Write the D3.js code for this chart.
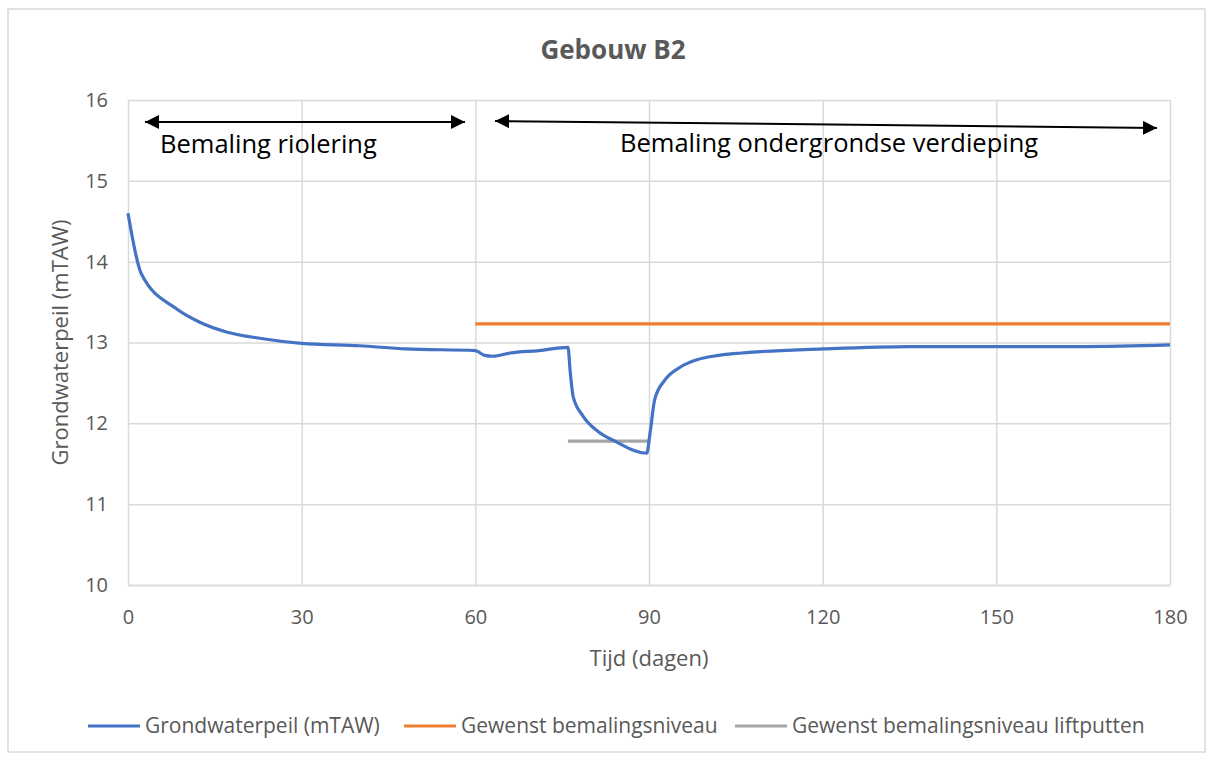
<!DOCTYPE html>
<html><head><meta charset="utf-8">
<script src="https://cdn.jsdelivr.net/npm/d3@7"></script>
<style>body{margin:0;background:#fff}svg{display:block}</style>
</head><body><svg id="c" width="1213" height="760"></svg>
<script>
const title = "Gebouw B2";
const xTicks = [0, 30, 60, 90, 120, 150, 180];
const yTicks = [10, 11, 12, 13, 14, 15, 16];
const gwDays = [0, 2.3, 8.3, 12.4, 17, 23, 30, 40, 48, 60, 61.6, 63, 66, 71, 76, 76.4, 76.9, 78.6, 81.2, 84.1, 89.6, 90.2, 91, 92.8, 95.5, 98.4, 102, 106, 120, 135, 165, 180];
const gwLevel = [14.6, 13.85, 13.42, 13.25, 13.13, 13.05, 12.99, 12.96, 12.92, 12.9, 12.84, 12.83, 12.87, 12.9, 12.94, 12.63, 12.33, 12.09, 11.9, 11.78, 11.63, 11.89, 12.3, 12.54, 12.7, 12.79, 12.84, 12.87, 12.92, 12.95, 12.95, 12.97];
const targetDays = [60, 180];
const targetLevel = [13.23, 13.23];
const liftDays = [76, 90];
const liftLevel = [11.78, 11.78];
const seriesNames = ["Grondwaterpeil (mTAW)", "Gewenst bemalingsniveau", "Gewenst bemalingsniveau liftputten"];
const seriesColors = ["#4472c4", "#ed7d31", "#a5a5a5"];
const annotations = [
  {from: 0, to: 60, label: "Bemaling riolering"},
  {from: 60, to: 180, label: "Bemaling ondergrondse verdieping"}
];

const svg = d3.select("#c");
const font = "'Open Sans', sans-serif";
svg.append("rect").attr("x", 8).attr("y", 9).attr("width", 1197).attr("height", 743)
  .attr("fill", "#fff").attr("stroke", "#d9d9d9").attr("stroke-width", 1.5);

const x = d3.scaleLinear().domain([0, 180]).range([128, 1170]);
const y = d3.scaleLinear().domain([10, 16]).range([585, 100]);

// gridlines
const g = svg.append("g");
g.append("g")
  .attr("transform", `translate(${x(0)},0)`)
  .call(d3.axisLeft(y).tickValues(yTicks).tickSize(-(x.range()[1] - x.range()[0])).tickFormat(""))
  .call(a => a.select(".domain").remove())
  .call(a => a.selectAll("line").attr("stroke", "#d9d9d9").attr("stroke-width", 1.5));
g.append("g").attr("transform", `translate(0,${y(10)})`)
  .call(d3.axisBottom(x).tickValues(xTicks).tickSize(-(y.range()[0] - y.range()[1])).tickFormat(""))
  .call(a => a.select(".domain").remove())
  .call(a => a.selectAll("line").attr("stroke", "#d9d9d9").attr("stroke-width", 1.5));

// tick labels
const yl = svg.append("g").attr("transform", `translate(${x(0)},0)`)
  .call(d3.axisLeft(y).tickValues(yTicks).tickSize(0).tickPadding(20).tickFormat(d3.format("d")));
yl.select(".domain").remove();
yl.selectAll("text").attr("font-family", font).attr("font-size", 20).attr("fill", "#595959");
const xl = svg.append("g").attr("transform", `translate(0,${y(10)})`)
  .call(d3.axisBottom(x).tickValues(xTicks).tickSize(0).tickPadding(25).tickFormat(d3.format("d")));
xl.select(".domain").attr("stroke", "#d9d9d9").attr("stroke-width", 1.5);
xl.selectAll("text").attr("font-family", font).attr("font-size", 20).attr("fill", "#595959");

// titles
svg.append("text").attr("x", 613).attr("y", 59).attr("text-anchor", "middle")
  .attr("font-family", font).attr("font-weight", "bold").attr("font-size", 26).attr("fill", "#595959").text(title);
svg.append("text").attr("x", 649).attr("y", 666).attr("text-anchor", "middle")
  .attr("font-family", font).attr("font-size", 22).attr("fill", "#595959").text("Tijd (dagen)");
svg.append("text").attr("transform", `translate(68,${(y(10)+y(16))/2}) rotate(-90)`).attr("text-anchor", "middle")
  .attr("font-family", font).attr("font-size", 22).attr("fill", "#595959").text("Grondwaterpeil (mTAW)");

// series
const line = d3.line().x(d => x(d[0])).y(d => y(d[1]));
svg.append("path").datum(targetDays.map((d, i) => [d, targetLevel[i]])).attr("d", line)
  .attr("fill", "none").attr("stroke", seriesColors[1]).attr("stroke-width", 3.2);
svg.append("path").datum(liftDays.map((d, i) => [d, liftLevel[i]])).attr("d", line)
  .attr("fill", "none").attr("stroke", seriesColors[2]).attr("stroke-width", 3.2);
svg.append("path").datum(gwDays.map((d, i) => [d, gwLevel[i]])).attr("d", d3.line().x(d => x(d[0])).y(d => y(d[1])).curve(d3.curveMonotoneX))
  .attr("fill", "none").attr("stroke", seriesColors[0]).attr("stroke-width", 3.2).attr("stroke-linejoin", "round");

// annotations
const defs = svg.append("defs");
defs.append("marker").attr("id", "ah").attr("viewBox", "0 0 10 10").attr("refX", 10).attr("refY", 5)
  .attr("markerWidth", 7).attr("markerHeight", 7).attr("markerUnits", "strokeWidth").attr("orient", "auto-start-reverse")
  .append("path").attr("d", "M0,0 L10,5 L0,10 Z").attr("fill", "#000");
const arrowPos = [
  {x1: 145, y1: 122, x2: 465, y2: 122, tx: 160, ty: 153},
  {x1: 495, y1: 121, x2: 1157, y2: 128, tx: 620, ty: 152}
];
annotations.forEach((a, i) => {
  const p = arrowPos[i];
  svg.append("line").attr("x1", p.x1).attr("y1", p.y1).attr("x2", p.x2).attr("y2", p.y2)
    .attr("stroke", "#000").attr("stroke-width", 2).attr("marker-start", "url(#ah)").attr("marker-end", "url(#ah)");
  svg.append("text").attr("x", p.tx).attr("y", p.ty).attr("font-family", font).attr("font-size", 25.5)
    .attr("fill", "#000").text(a.label);
});

// legend
const legendX = [88, 404, 735];
seriesNames.forEach((n, i) => {
  const lg = svg.append("g").attr("transform", `translate(${legendX[i]},726)`);
  lg.append("line").attr("x1", 0).attr("x2", 52).attr("y1", 0).attr("y2", 0)
    .attr("stroke", seriesColors[i]).attr("stroke-width", 3.2);
  lg.append("text").attr("x", 57).attr("y", 7).attr("font-family", font).attr("font-size", 21)
    .attr("fill", "#595959").text(n);
});
</script></body></html>
